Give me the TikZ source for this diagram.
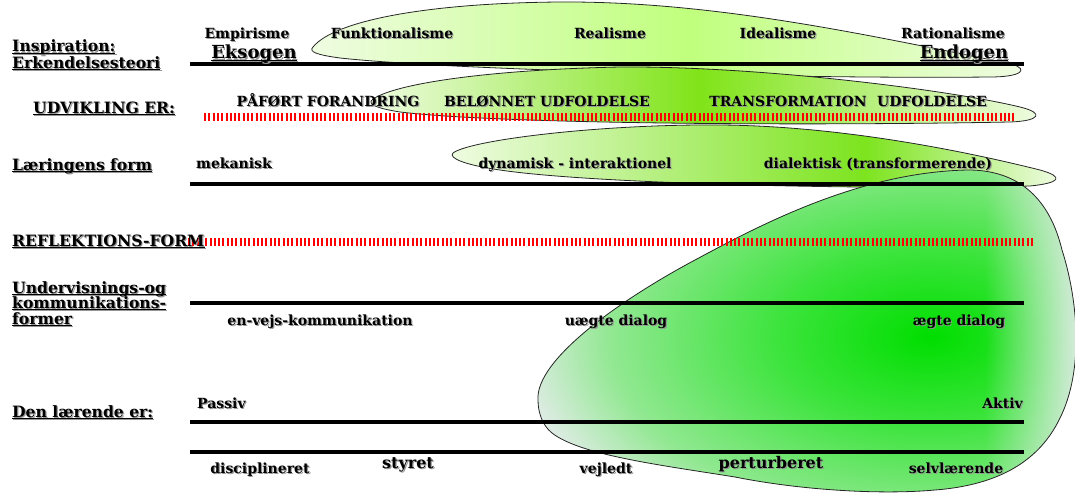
\documentclass[tikz,border=0pt]{standalone}
\usepackage{fontspec}
\setmainfont{DejaVu Serif}
\usetikzlibrary{positioning, fadings}
\definecolor{leafpale}{RGB}{240,252,228}
\definecolor{leafone}{RGB}{192,255,125}
\definecolor{leaftwo}{RGB}{128,228,24}
\definecolor{leafthree}{RGB}{125,228,30}
\definecolor{glowcore}{RGB}{0,222,0}
\definecolor{glowmid}{RGB}{60,228,60}
\definecolor{glowpale}{RGB}{145,232,145}
\definecolor{glowedge}{RGB}{228,236,234}
\definecolor{barred}{RGB}{255,0,0}
\definecolor{shadowgray}{RGB}{150,150,150}
\pgfdeclareradialshading{blobglow}{\pgfpoint{0bp}{0bp}}{color(0bp)=(glowcore); color(9bp)=(glowmid); color(19bp)=(glowpale); color(25bp)=(glowedge); color(50bp)=(glowedge)}
\newsavebox{\ulbox}
\newcommand{\ul}[1]{\sbox{\ulbox}{#1}\rlap{\rule[-2pt]{\wd\ulbox}{1.4pt}}\usebox{\ulbox}}
\newcommand{\shdw}[1]{\leavevmode\rlap{\kern1.2pt\raisebox{-1.2pt}{\textcolor{shadowgray}{#1}}}#1}
\newcommand{\lblfont}{\fontsize{14}{16}\selectfont\bfseries}
\newcommand{\midfont}{\fontsize{16}{18}\selectfont\bfseries}
\newcommand{\bigfont}{\fontsize{18}{20}\selectfont\bfseries}
\newcommand{\rowfont}{\fontsize{15.6}{16}\selectfont\bfseries}

\begin{document}
\begin{tikzpicture}[x=1pt, y=-1pt,
  axisline/.style={line width=4pt},
  redbar/.style={barred, line width=8pt, dash pattern=on 2pt off 2.3pt},
  leafedge/.style={draw=black!85, line width=0.8pt},
  lbl/.style={font=\lblfont, inner sep=0pt, anchor=base},
  midlbl/.style={font=\midfont, inner sep=0pt, anchor=base},
  biglbl/.style={font=\bigfont, inner sep=0pt, anchor=base},
  rowlbl/.style={font=\rowfont, inner sep=0pt, anchor=base west}
]
\clip (0,0) rectangle (1075,495);

% leaf 1
\begin{scope}
\clip (313,47) .. controls (335,20) and (430,3) .. (560,2) .. controls (720,1) and (880,38) .. (1012,64) .. controls (1030,70) and (1020,77) .. (990,77) .. controls (800,79) and (450,70) .. (340,58) .. controls (318,55) and (308,52) .. (313,47);
\shade[left color=leafpale, right color=leafone] (300,0) rectangle (690,80);
\shade[left color=leafone, right color=leafpale] (690,0) rectangle (1030,80);
\end{scope}
\draw[leafedge] (313,47) .. controls (335,20) and (430,3) .. (560,2) .. controls (720,1) and (880,38) .. (1012,64) .. controls (1030,70) and (1020,77) .. (990,77) .. controls (800,79) and (450,70) .. (340,58) .. controls (318,55) and (308,52) .. (313,47);

% leaf 2
\begin{scope}
\clip (372,100) .. controls (390,85) and (480,70) .. (620,67) .. controls (760,66) and (950,90) .. (1020,107) .. controls (1045,113) and (1040,121) .. (1010,122) .. controls (800,126) and (500,124) .. (400,112) .. controls (375,108) and (368,104) .. (372,100);
\shade[left color=leafpale, right color=leaftwo] (365,60) rectangle (700,130);
\shade[left color=leaftwo, right color=leafpale] (700,60) rectangle (1045,130);
\end{scope}
\draw[leafedge] (372,100) .. controls (390,85) and (480,70) .. (620,67) .. controls (760,66) and (950,90) .. (1020,107) .. controls (1045,113) and (1040,121) .. (1010,122) .. controls (800,126) and (500,124) .. (400,112) .. controls (375,108) and (368,104) .. (372,100);

% leaf 3
\begin{scope}
\clip (453,153) .. controls (470,140) and (600,124) .. (720,125) .. controls (850,126) and (980,155) .. (1040,170) .. controls (1065,177) and (1060,183) .. (1030,186) .. controls (900,190) and (600,185) .. (500,170) .. controls (465,165) and (448,158) .. (453,153);
\shade[left color=leafpale, right color=leafthree] (445,120) rectangle (865,195);
\shade[left color=leafthree, right color=leafpale] (865,120) rectangle (1062,195);
\end{scope}
\draw[leafedge] (453,153) .. controls (470,140) and (600,124) .. (720,125) .. controls (850,126) and (980,155) .. (1040,170) .. controls (1065,177) and (1060,183) .. (1030,186) .. controls (900,190) and (600,185) .. (500,170) .. controls (465,165) and (448,158) .. (453,153);

% blob
\begin{scope}
\clip (538,400) .. controls (535,360) and (620,300) .. (695,260) .. controls (760,225) and (860,172) .. (968,170) .. controls (1020,170) and (1050,200) .. (1062,250) .. controls (1078,300) and (1084,370) .. (1060,418) .. controls (1040,460) and (1000,485) .. (935,490) .. controls (880,495) and (800,490) .. (735,477) .. controls (660,465) and (580,455) .. (552,433) .. controls (542,425) and (538,412) .. (538,400);
\fill[glowedge] (530,160) rectangle (1090,500);
\shade[shading=blobglow] (930,337) ellipse [x radius=420, y radius=240];
\fill[glowedge, path fading=west] (985,160) rectangle (1085,500);
\end{scope}
\draw[leafedge] (538,400) .. controls (535,360) and (620,300) .. (695,260) .. controls (760,225) and (860,172) .. (968,170) .. controls (1020,170) and (1050,200) .. (1062,250) .. controls (1078,300) and (1084,370) .. (1060,418) .. controls (1040,460) and (1000,485) .. (935,490) .. controls (880,495) and (800,490) .. (735,477) .. controls (660,465) and (580,455) .. (552,433) .. controls (542,425) and (538,412) .. (538,400);

% rules
\coordinate (row1w) at (190,64);   \coordinate (row1e) at (1024,64);
\coordinate (row2w) at (204,117);  \coordinate (row2e) at (1014,117);
\coordinate (row3w) at (190,184);  \coordinate (row3e) at (1024,184);
\coordinate (row4w) at (188,242);  \coordinate (row4e) at (1034,242);
\coordinate (row5w) at (190,303);  \coordinate (row5e) at (1024,303);
\coordinate (row6w) at (190,422);  \coordinate (row6e) at (1024,422);
\coordinate (row7w) at (190,452);  \coordinate (row7e) at (1024,452);
\draw[axisline] (row1w) -- (row1e);
\draw[redbar] (row2w) -- (row2e);
\draw[axisline] (row3w) -- (row3e);
\draw[redbar] (row4w) -- (row4e);
\draw[axisline] (row5w) -- (row5e);
\draw[axisline] (row6w) -- (row6e);
\draw[axisline] (row7w) -- (row7e);

% row labels
\node[rowlbl] (insp) at (12,52) {\shdw{\ul{Inspiration:}}};
\node[rowlbl] (erk) at (12,68) {\shdw{\ul{Erkendelsesteori}}};
\node[rowlbl] (udv) at (33,113) {\shdw{\ul{UDVIKLING ER:}}};
\node[rowlbl] (laer) at (12,170) {\shdw{\ul{Læringens form}}};
\node[rowlbl] (refl) at (12,246) {\shdw{\ul{REFLEKTIONS-FORM}}};
\node[rowlbl] (und) at (12,293) {\shdw{\ul{Undervisnings-og}}};
\node[rowlbl] (komm) at (12,308) {\shdw{\ul{kommunikations-}}};
\node[rowlbl] (form) at (12,324) {\shdw{\ul{former}}};
\node[rowlbl] (den) at (12,417) {\shdw{\ul{Den lærende er:}}};

% scale labels
\node[lbl] (empir) at (247,38) {\shdw{Empirisme}};
\node[lbl] (funk) at (392,38) {\shdw{Funktionalisme}};
\node[lbl] (real) at (610,38) {\shdw{Realisme}};
\node[lbl] (ideal) at (778,38) {\shdw{Idealisme}};
\node[lbl] (ratio) at (953,38) {\shdw{Rationalisme}};
\node[biglbl] (eks) at (254,59) {\shdw{\ul{Eksogen}}};
\node[biglbl] (endo) at (964,59) {\shdw{\ul{Endogen}}};

\node[lbl] (paaf) at (328,106) {\shdw{PÅFØRT FORANDRING}};
\node[lbl] (beloen) at (547,106) {\shdw{BELØNNET UDFOLDELSE}};
\node[lbl] (trans) at (788,106) {\shdw{TRANSFORMATION}};
\node[lbl] (udf) at (932,106) {\shdw{UDFOLDELSE}};

\node[lbl] (mek) at (234,168) {\shdw{mekanisk}};
\node[lbl] (dyn) at (575,168) {\shdw{dynamisk - interaktionel}};
\node[lbl] (dial) at (878,168) {\shdw{dialektisk (transformerende)}};

\node[lbl] (envejs) at (320,325) {\shdw{en-vejs-kommunikation}};
\node[lbl] (uaegte) at (616,325) {\shdw{uægte dialog}};
\node[lbl] (aegte) at (959,325) {\shdw{ægte dialog}};

\node[lbl, anchor=base west] (passiv) at (197,408) {\shdw{Passiv}};
\node[lbl, anchor=base east] (aktiv) at (1023,408) {\shdw{Aktiv}};

\node[lbl] (disc) at (260,473) {\shdw{disciplineret}};
\node[midlbl] (styr) at (408,468) {\shdw{styret}};
\node[lbl] (vejl) at (606,473) {\shdw{vejledt}};
\node[midlbl] (pert) at (771,468) {\shdw{perturberet}};
\node[lbl] (selv) at (956,473) {\shdw{selvlærende}};
\end{tikzpicture}
\end{document}
